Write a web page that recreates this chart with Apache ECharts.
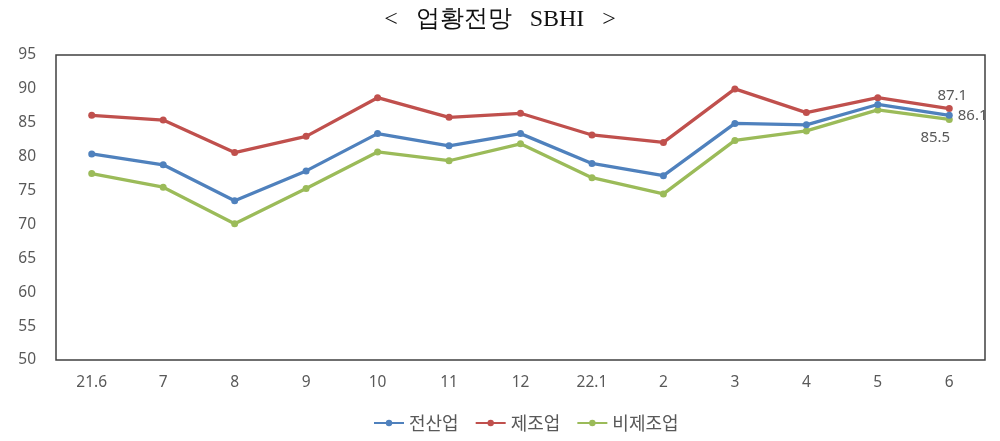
<!DOCTYPE html>
<html><head><meta charset="utf-8">
<script src="https://cdn.jsdelivr.net/npm/echarts@6/dist/echarts.min.js"></script>
<style>html,body{margin:0;padding:0;background:#fff}#c{width:1000px;height:441px}</style>
</head><body><div id="c"></div>
<script>
const categories = ['21.6','7','8','9','10','11','12','22.1','2','3','4','5','6'];
const allIndustry = [80.4,78.8,73.5,77.9,83.4,81.6,83.4,79.0,77.2,84.9,84.7,87.7,86.1];
const manufacturing = [86.1,85.4,80.6,83.0,88.7,85.8,86.4,83.2,82.1,90.0,86.5,88.7,87.1];
const nonManufacturing = [77.5,75.5,70.1,75.3,80.7,79.4,81.9,76.9,74.5,82.4,83.8,86.9,85.5];
const seriesNames = ['전산업','제조업','비제조업'];
const titleText = '<   업황전망   SBHI   >';

const lastIdx = categories.length - 1;
function lastLabel(pos, offset) {
  return {
    show: true,
    formatter: p => p.dataIndex === lastIdx ? p.value.toFixed(1) : '',
    position: pos, offset: offset,
    color: '#595959', fontSize: 15, fontFamily: 'Noto Sans, sans-serif'
  };
}
const chart = echarts.init(document.getElementById('c'));
const colors = ['#4F81BD','#C0504D','#9BBB59'];
const data = [allIndustry, manufacturing, nonManufacturing];
const labels = [lastLabel('right',[0,0]), lastLabel('top',[3,3]), lastLabel('bottom',[-14,2])];
chart.setOption({
  animation: false,
  title: {
    text: titleText, left: 'center', top: 3,
    textStyle: { fontFamily: 'Liberation Serif, DejaVu Serif, serif', fontSize: 24, fontWeight: 'normal', color: '#111' }
  },
  legend: {
    bottom: 4, left: 368, itemGap: 16, itemWidth: 30, itemHeight: 8,
    textStyle: { color: '#595959', fontSize: 18, fontFamily: 'Noto Sans CJK KR, sans-serif' },
    data: seriesNames.map((n,i)=>({name:n}))
  },
  grid: { left: 56, right: 15, top: 55, bottom: 81, show: true, borderColor: '#404040', borderWidth: 1.5, backgroundColor: '#fff' },
  xAxis: {
    type: 'category', data: categories, boundaryGap: true,
    axisLine: { show: false }, axisTick: { show: false },
    axisLabel: { color: '#595959', fontSize: 15.5, margin: 15, fontFamily: 'Noto Sans, sans-serif' }
  },
  yAxis: {
    type: 'value', min: 50, max: 95, interval: 5,
    axisLine: { show: false }, axisTick: { show: false }, splitLine: { show: false },
    axisLabel: { color: '#595959', fontSize: 15.5, margin: 20, fontFamily: 'Noto Sans, sans-serif' }
  },
  series: data.map((d,i)=>({
    name: seriesNames[i], type: 'line', data: d,
    symbol: 'circle', symbolSize: 7,
    lineStyle: { width: 3.3, color: colors[i] },
    itemStyle: { color: colors[i] },
    label: labels[i],
    z: i===0 ? 4 : (i===1 ? 3 : 2)
  }))
});
</script></body></html>
